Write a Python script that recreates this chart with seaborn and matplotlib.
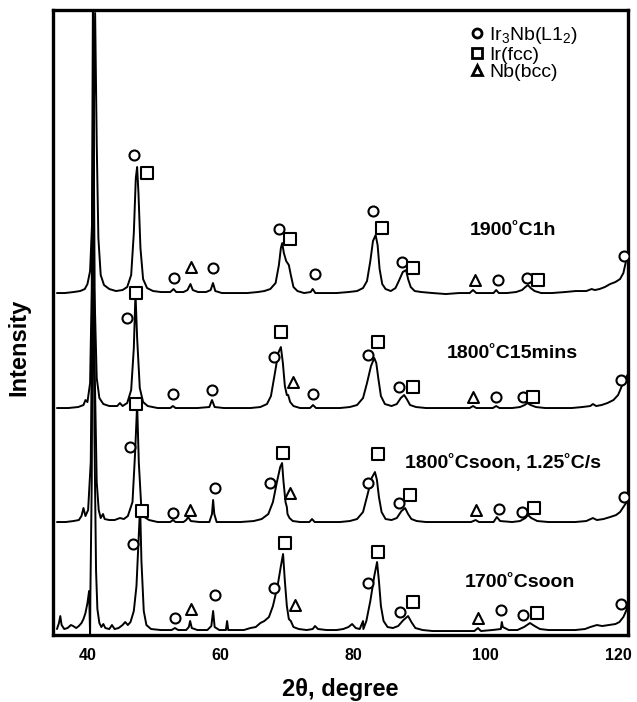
import pandas as pd
import seaborn as sns
import matplotlib.pyplot as plt
from matplotlib.lines import Line2D

sns.set_theme(style="white")
plt.rcParams['font.family'] = ['Liberation Sans', 'DejaVu Sans']
plt.rcParams['mathtext.default'] = 'regular'
plt.rcParams['text.color'] = 'black'
plt.rcParams['axes.labelcolor'] = 'black'
plt.rcParams['xtick.color'] = 'black'

# XRD scans of the Ir-Nb samples (2theta in degree, intensity above each baseline)
scans = ['1900˚C1h', '1800˚C15mins', '1800˚Csoon, 1.25˚C/s', '1700˚Csoon']

scan_1900 = [
    (35.3, 0), (36.5, 0), (37.8, 1), (38.8, 2), (39.5, 4), (39.9, 9), (40.3, 22), (40.6, 70),
    (40.85, 170), (41.06, 280), (41.3, 150), (41.55, 55), (41.9, 18), (42.4, 8), (43.2, 4),
    (44.2, 2), (45.2, 3), (45.9, 6), (46.5, 18), (46.9, 60), (47.2, 115), (47.4, 126),
    (47.6, 100), (47.9, 45), (48.3, 14), (48.9, 5), (49.8, 2), (51.0, 1), (52.4, 1), (52.9, 4),
    (53.3, 1), (54.4, 1), (55.0, 3), (55.45, 9), (55.8, 3), (56.6, 1), (57.8, 1), (58.5, 3),
    (58.85, 10), (59.2, 2), (60.2, 0), (62.0, 0), (64.0, 0), (65.6, 1), (66.6, 2), (67.5, 4),
    (68.3, 10), (68.8, 28), (69.1, 45), (69.3, 50), (69.55, 40), (69.9, 32), (70.3, 28),
    (70.6, 18), (71.0, 6), (71.6, 2), (72.6, 0), (73.6, 1), (73.9, 4), (74.3, 0), (75.5, 0),
    (77.5, 0), (79.3, 1), (80.6, 2), (81.5, 5), (82.1, 12), (82.6, 32), (83.0, 52), (83.4, 58),
    (83.7, 48), (84.0, 24), (84.4, 9), (84.9, 4), (85.7, 2), (86.4, 5), (86.9, 12), (87.5, 21),
    (88.0, 23), (88.3, 14), (88.7, 6), (89.3, 2), (90.3, 1), (92.0, 0), (94.0, -1), (96.0, 0),
    (97.6, 0), (98.1, 3), (98.6, 0), (99.8, 0), (101.2, 0), (101.6, 3), (102.0, 0), (103.2, 0),
    (104.6, 1), (105.5, 3), (106.0, 6), (106.4, 8), (106.8, 5), (107.4, 2), (108.4, 0),
    (110.0, 0), (112.0, 1), (113.6, 2), (115.2, 2), (116.0, 4), (116.5, 3), (117.2, 4),
    (118.0, 6), (118.8, 9), (119.6, 11), (120.3, 14), (120.8, 20), (121.2, 32), (121.5, 42),
]

scan_1800_15 = [
    (35.3, 0), (37.0, 0), (38.5, 1), (39.3, 3), (39.6, 8), (39.9, 6), (40.3, 25), (40.55, 120),
    (40.75, 450), (40.95, 120), (41.3, 30), (41.7, 10), (42.3, 4), (43.2, 2), (44.4, 2),
    (44.8, 5), (45.2, 2), (45.9, 5), (46.5, 18), (46.9, 60), (47.15, 115), (47.4, 70),
    (47.8, 20), (48.3, 6), (49.0, 2), (50.5, 0), (52.4, 0), (52.8, 2), (53.2, 0), (55.0, 0),
    (56.5, 0), (58.3, 1), (58.7, 8), (59.1, 1), (60.5, 0), (62.5, 0), (64.5, 0), (66.0, 1),
    (67.0, 4), (67.6, 12), (68.2, 35), (68.7, 55), (69.1, 61), (69.4, 45), (69.7, 22),
    (70.0, 13), (70.2, 13), (70.5, 6), (71.0, 2), (72.0, 0), (73.5, 0), (73.95, 3), (74.4, 0),
    (76.0, 0), (78.0, 0), (79.5, 1), (80.6, 3), (81.5, 10), (82.1, 25), (82.7, 42), (83.2, 50),
    (83.5, 45), (83.8, 30), (84.2, 12), (84.8, 4), (85.8, 2), (86.6, 4), (87.2, 10), (87.7, 13),
    (88.1, 9), (88.6, 3), (89.5, 1), (91.0, 0), (93.0, 0), (95.0, 0), (97.6, 0), (98.1, 2),
    (98.6, 0), (101.1, 0), (101.6, 2), (102.1, 0), (104.0, 0), (105.2, 1), (105.9, 3),
    (106.3, 5), (106.8, 3), (107.6, 1), (109.0, 0), (111.0, 0), (113.0, 0), (114.6, 1),
    (115.8, 2), (116.2, 4), (116.7, 2), (117.5, 3), (118.4, 5), (119.3, 8), (120.0, 13),
    (120.5, 21), (121.0, 28), (121.5, 34),
]

scan_1800_soon = [
    (35.3, 0), (36.6, 0), (37.8, 1), (38.6, 2), (39.0, 6), (39.3, 14), (39.6, 6), (40.0, 12),
    (40.4, 60), (40.6, 200), (40.8, 500), (41.0, 150), (41.3, 40), (41.6, 12), (41.9, 4),
    (42.25, 8), (42.5, 3), (43.2, 2), (44.0, 2), (44.8, 4), (45.4, 3), (46.0, 6), (46.7, 20),
    (47.1, 70), (47.4, 118), (47.65, 60), (48.0, 18), (48.5, 5), (49.2, 2), (50.5, 0),
    (52.4, 0), (52.8, 2), (53.2, 0), (54.4, 0), (54.8, 2), (55.1, 5), (55.5, 1), (56.8, 0),
    (58.3, 0), (58.7, 8), (58.87, 22), (59.05, 8), (59.4, 0), (61.0, 0), (63.0, 0), (65.0, 1),
    (66.2, 3), (67.2, 8), (67.9, 20), (68.5, 40), (69.0, 55), (69.28, 59), (69.5, 40),
    (69.8, 20), (70.0, 15), (70.1, 8), (70.4, 4), (70.9, 1), (72.0, 0), (73.4, 0), (73.8, 3),
    (74.2, 0), (76.0, 0), (78.0, 0), (79.5, 1), (80.6, 3), (81.5, 10), (82.2, 28), (82.8, 44),
    (83.3, 50), (83.6, 42), (83.9, 25), (84.3, 10), (84.9, 3), (85.8, 2), (86.6, 4), (87.3, 11),
    (87.85, 14), (88.3, 8), (88.8, 3), (89.6, 1), (91.0, 0), (93.0, 0), (95.0, 0), (97.8, 0),
    (98.5, 2), (99.0, 0), (101.2, 0), (101.7, 5), (102.2, 1), (104.0, 0), (105.2, 1),
    (106.0, 4), (106.4, 7), (106.9, 4), (107.8, 1), (109.5, 0), (111.5, 0), (113.5, 0),
    (115.2, 1), (116.2, 4), (116.8, 2), (117.8, 3), (118.8, 5), (119.7, 7), (120.3, 10),
    (120.7, 14), (121.1, 18), (121.5, 22),
]

scan_1700 = [
    (35.3, 2), (35.6, 8), (35.8, 15), (36.0, 6), (36.4, 2), (36.9, 3), (37.4, 6), (37.75, 5),
    (38.2, 3), (38.6, 5), (39.0, 8), (39.3, 12), (39.6, 18), (39.9, 28), (40.15, 40),
    (40.3, -4), (40.35, 40), (40.55, 150), (40.75, 500), (40.95, 200), (41.2, 60), (41.4, 22),
    (41.7, 8), (42.0, 4), (42.3, 7), (42.6, 3), (43.2, 2), (43.6, 6), (44.0, 2), (44.6, 3),
    (45.2, 6), (45.6, 9), (46.0, 6), (46.4, 9), (46.9, 20), (47.3, 45), (47.6, 90),
    (47.85, 125), (48.05, 70), (48.4, 20), (48.8, 6), (49.5, 2), (51.0, 1), (52.6, 1),
    (53.1, 3), (53.6, 1), (54.8, 1), (55.2, 4), (55.4, 10), (55.65, 3), (56.5, 1), (58.0, 1),
    (58.6, 5), (58.87, 20), (59.1, 4), (59.8, 1), (60.8, 1), (60.98, 10), (61.15, 1),
    (62.0, 1), (63.5, 1), (64.5, 3), (65.3, 4), (66.0, 8), (66.6, 10), (67.3, 14), (67.9, 25),
    (68.6, 45), (69.1, 65), (69.43, 77), (69.7, 50), (70.0, 25), (70.3, 12), (70.6, 10),
    (71.0, 4), (71.8, 2), (73.0, 1), (73.9, 2), (74.25, 5), (74.7, 2), (76.0, 1), (77.5, 1),
    (78.5, 2), (79.3, 4), (79.85, 7), (80.4, 3), (81.0, 2), (81.5, 10), (81.55, 2), (82.0, 10),
    (82.6, 30), (83.2, 55), (83.62, 69), (83.9, 50), (84.2, 25), (84.6, 10), (85.2, 4),
    (86.0, 3), (86.8, 5), (87.6, 11), (88.3, 15), (88.8, 9), (89.4, 3), (90.5, 1), (92.0, 0),
    (94.0, 0), (96.0, 0), (98.3, 0), (98.85, 3), (99.3, 0), (101.0, 1), (102.3, 2), (102.45, 9),
    (102.6, 4), (103.5, 1), (104.8, 1), (105.8, 4), (106.7, 8), (107.4, 5), (108.2, 2),
    (109.5, 1), (111.5, 1), (113.5, 1), (115.0, 2), (115.8, 4), (116.8, 6), (117.6, 5),
    (118.6, 6), (119.6, 7), (120.2, 9), (120.8, 14), (121.2, 20), (121.5, 26),
]

# phase marks: (scan index, 2theta, height above that scan's baseline)
ir3nb_marks = [
    (0, 46.94, 138), (0, 52.98, 15), (0, 58.87, 25), (0, 68.83, 64), (0, 74.26, 19),
    (0, 83.02, 82), (0, 87.40, 31), (0, 101.89, 13), (0, 106.26, 15), (0, 120.9, 37),
    (1, 45.89, 90), (1, 52.83, 14), (1, 58.72, 18), (1, 68.08, 51), (1, 73.96, 14),
    (1, 82.26, 53), (1, 86.94, 21), (1, 101.58, 11), (1, 105.66, 11), (1, 120.5, 28),
    (2, 46.34, 75), (2, 52.83, 9), (2, 59.17, 34), (2, 67.47, 39), (2, 82.26, 39),
    (2, 86.94, 19), (2, 102.04, 13), (2, 105.51, 10), (2, 120.9, 25),
    (3, 46.79, 87), (3, 53.13, 13), (3, 59.17, 36), (3, 68.08, 43), (3, 82.26, 48),
    (3, 87.09, 19), (3, 102.34, 21), (3, 105.66, 16), (3, 120.5, 27),
]
ir_marks = [
    (0, 48.91, 120), (0, 70.49, 54), (0, 84.38, 65), (0, 89.06, 25), (0, 107.92, 13),
    (1, 47.25, 115), (1, 69.13, 76), (1, 83.77, 66), (1, 89.06, 21), (1, 107.17, 11),
    (2, 47.25, 118), (2, 69.43, 69), (2, 83.77, 68), (2, 88.60, 27), (2, 107.32, 14),
    (3, 48.15, 120), (3, 69.74, 88), (3, 83.77, 79), (3, 89.06, 29), (3, 107.77, 18),
]
nb_marks = [
    (0, 55.55, 26), (0, 98.42, 13),
    (1, 70.94, 26), (1, 98.11, 11),
    (2, 55.40, 12), (2, 70.49, 29), (2, 98.57, 12),
    (3, 55.55, 22), (3, 71.25, 26), (3, 98.87, 13),
]

tick_pos = [40, 60, 80, 100, 120]
tick_text = ['40', '60', '80', '100', '120']

# stacking of the scans and where their names sit
offsets = [342, 227, 113, 4]
name_pos = [(104.2, 63), (104.0, 55), (102.6, 59), (105.2, 49)]

fig = plt.figure(figsize=(6.37, 7.02), dpi=100)
ax = fig.add_axes([0.0832, 0.0954, 0.9027, 0.8903])

for k, scan in enumerate([scan_1900, scan_1800_15, scan_1800_soon, scan_1700]):
    df = pd.DataFrame(scan, columns=['tt', 'i'])
    df['i'] = df['i'] + offsets[k]
    sns.lineplot(data=df, x='tt', y='i', sort=False, estimator=None, color='black',
                 lw=1.4, ax=ax, zorder=2)
    ax.text(name_pos[k][0], offsets[k] + name_pos[k][1], scans[k], ha='center', va='center',
            fontsize=14, fontweight='bold')

for marks, mk, size in [(ir3nb_marks, 'o', 52), (ir_marks, 's', 66), (nb_marks, '^', 62)]:
    dm = pd.DataFrame(marks, columns=['scan', 'tt', 'h'])
    dm['y'] = [offsets[s] + h for s, h in zip(dm['scan'], dm['h'])]
    sns.scatterplot(data=dm, x='tt', y='y', marker=mk, s=size, color='white',
                    edgecolor='black', linewidth=1.5, ax=ax, zorder=3)

handles = [
    Line2D([], [], ls='', marker='o', ms=6.5, mfc='white', mec='black', mew=2.0),
    Line2D([], [], ls='', marker='s', ms=7.5, mfc='white', mec='black', mew=2.0),
    Line2D([], [], ls='', marker='^', ms=7.5, mfc='white', mec='black', mew=2.0),
]
ax.legend(handles, ['Ir$_3$Nb(L1$_2$)', 'Ir(fcc)', 'Nb(bcc)'], loc='upper left',
          bbox_to_anchor=(0.726, 0.976), frameon=False, fontsize=14, borderaxespad=0,
          borderpad=0, handlelength=0.7, handletextpad=0.25, labelspacing=0.0)

ax.set_xlim(34.7, 121.5)
ax.set_ylim(0, 625)
ax.set_xticks(tick_pos)
ax.set_xticklabels(tick_text, fontsize=11.5, fontweight='bold')
ax.set_yticks([])
ax.tick_params(axis='x', length=0, pad=9)
ax.set_xlabel('2θ, degree', fontsize=17, fontweight='bold', labelpad=11)
ax.set_ylabel('Intensity', fontsize=17, fontweight='bold')
ax.yaxis.set_label_coords(-0.040, 0.46)
for sp in ax.spines.values():
    sp.set_linewidth(2.4)
    sp.set_color('black')

fig.savefig('out.png', dpi=100)
